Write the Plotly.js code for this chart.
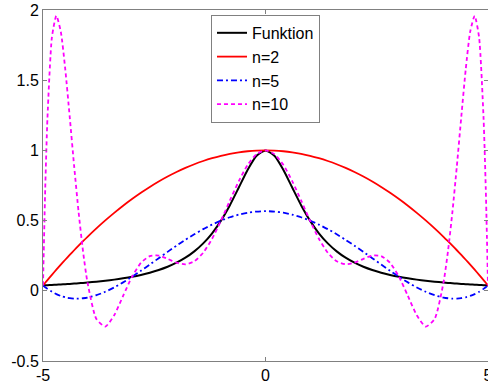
<!DOCTYPE html>
<html>
<head>
<meta charset="utf-8">
<script src="https://cdn.plot.ly/plotly-3.0.1.min.js"></script>
<style>html,body{margin:0;padding:0;background:#fff;}#chart{width:488px;height:387px;}</style>
</head>
<body>
<div id="chart"></div>
<script>
const xValues = [-5,-4.95,-4.9,-4.8,-4.7,-4.6,-4.5,-4.4,-4.3,-4.2,-4.1,-4,-3.8,-3.6,-3.4,-3.2,-3,-2.8,-2.6,-2.4,-2.2,-2,-1.8,-1.6,-1.4,-1.2,-1,-0.8,-0.6,-0.4,-0.2,0,0.2,0.4,0.6,0.8,1,1.2,1.4,1.6,1.8,2,2.2,2.4,2.6,2.8,3,3.2,3.4,3.6,3.8,4,4.1,4.2,4.3,4.4,4.5,4.6,4.7,4.8,4.9,4.95,5];

const funktion = [0.0385,0.0392,0.0400,0.0416,0.0433,0.0451,0.0471,0.0491,0.0513,0.0537,0.0562,0.0588,0.0648,0.0716,0.0796,0.0890,0.1,0.1131,0.1289,0.1479,0.1712,0.2,0.2358,0.2809,0.3378,0.4098,0.5,0.6098,0.7353,0.8621,0.9615,1,0.9615,0.8621,0.7353,0.6098,0.5,0.4098,0.3378,0.2809,0.2358,0.2,0.1712,0.1479,0.1289,0.1131,0.1,0.0890,0.0796,0.0716,0.0648,0.0588,0.0562,0.0537,0.0513,0.0491,0.0471,0.0451,0.0433,0.0416,0.0400,0.0392,0.0385];

const n2 = [0.0385,0.0576,0.0765,0.1138,0.1504,0.1862,0.2212,0.2554,0.2888,0.3215,0.3535,0.3846,0.4446,0.5015,0.5554,0.6062,0.6538,0.6985,0.74,0.7785,0.8138,0.8462,0.8754,0.9015,0.9246,0.9446,0.9615,0.9754,0.9862,0.9938,0.9985,1,0.9985,0.9938,0.9862,0.9754,0.9615,0.9446,0.9246,0.9015,0.8754,0.8462,0.8138,0.7785,0.74,0.6985,0.6538,0.6062,0.5554,0.5015,0.4446,0.3846,0.3535,0.3215,0.2888,0.2554,0.2212,0.1862,0.1504,0.1138,0.0765,0.0576,0.0385];

const n5 = [0.0385,0.0255,0.0137,-0.0069,-0.0236,-0.0366,-0.0460,-0.0522,-0.0553,-0.0555,-0.0530,-0.0481,-0.0314,-0.0069,0.0240,0.0600,0.1,0.1427,0.1872,0.2323,0.2773,0.3212,0.3632,0.4027,0.4390,0.4716,0.5,0.5238,0.5426,0.5563,0.5645,0.5673,0.5645,0.5563,0.5426,0.5238,0.5,0.4716,0.4390,0.4027,0.3632,0.3212,0.2773,0.2323,0.1872,0.1427,0.1,0.0600,0.0240,-0.0069,-0.0314,-0.0481,-0.0530,-0.0555,-0.0553,-0.0522,-0.0460,-0.0366,-0.0236,-0.0069,0.0137,0.0255,0.0385];

const n10 = [0.0385,0.7261,1.2303,1.8044,1.9590,1.8459,1.5787,1.2402,0.8881,0.5604,0.2802,0.0588,-0.2013,-0.2546,-0.1743,-0.0363,0.1,0.1987,0.2472,0.2510,0.2278,0.2,0.1888,0.2099,0.2710,0.3708,0.5,0.6432,0.7818,0.8971,0.9734,1,0.9734,0.8971,0.7818,0.6432,0.5,0.3708,0.2710,0.2099,0.1888,0.2,0.2278,0.2510,0.2472,0.1987,0.1,-0.0363,-0.1743,-0.2546,-0.2013,0.0588,0.2802,0.5604,0.8881,1.2402,1.5787,1.8459,1.9590,1.8044,1.2303,0.7261,0.0385];

const seriesNames = ["Funktion", "n=2", "n=5", "n=10"];
const xTicks = [-5, 0, 5];
const xTickLabels = ["-5", "0", "5"];
const yTicks = [-0.5, 0, 0.5, 1, 1.5, 2];
const yTickLabels = ["-0.5", "0", "0.5", "1", "1.5", "2"];

const traces = [
  {x: xValues, y: funktion, name: seriesNames[0], mode: "lines", line: {color: "#000000", width: 2, shape: "spline", smoothing: 0.6}},
  {x: xValues, y: n2, name: seriesNames[1], mode: "lines", line: {color: "#ff0000", width: 1.8, shape: "spline", smoothing: 0.6}},
  {x: xValues, y: n5, name: seriesNames[2], mode: "lines", line: {color: "#0000ff", width: 1.8, dash: "6px,3px,2px,3px", shape: "spline", smoothing: 0.6}},
  {x: xValues, y: n10, name: seriesNames[3], mode: "lines", line: {color: "#ff00ff", width: 1.8, dash: "4px,3px", shape: "spline", smoothing: 0.6}}
];

const axisCommon = {
  showgrid: false, zeroline: false, showline: true, linecolor: "#808080", linewidth: 1,
  mirror: "ticks", ticks: "inside", ticklen: 4, tickcolor: "#808080",
  ticklabeloverflow: "allow",
  tickfont: {family: "Liberation Sans, Arial, sans-serif", size: 16, color: "#000"}
};

const layout = {
  width: 488, height: 387,
  margin: {l: 43, r: 0, t: 10, b: 26},
  paper_bgcolor: "#ffffff", plot_bgcolor: "#ffffff",
  showlegend: true,
  legend: {
    x: 0.3775, y: 0.986, xanchor: "left", yanchor: "top",
    bgcolor: "#ffffff", bordercolor: "#808080", borderwidth: 1,
    font: {family: "Liberation Sans, Arial, sans-serif", size: 16, color: "#000"}
  },
  xaxis: Object.assign({}, axisCommon, {range: [-5, 5], tickvals: xTicks, ticktext: xTickLabels}),
  yaxis: Object.assign({}, axisCommon, {range: [-0.5, 2], tickvals: yTicks, ticktext: yTickLabels})
};

Plotly.newPlot("chart", traces, layout, {displayModeBar: false, staticPlot: true});
</script>
</body>
</html>
